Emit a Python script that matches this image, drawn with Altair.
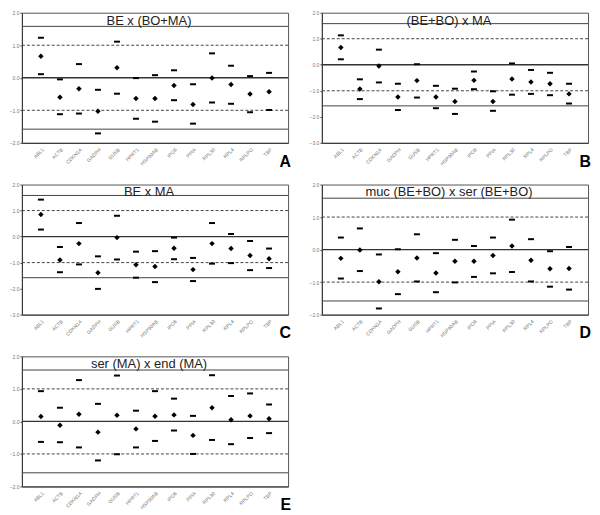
import altair as alt
import pandas as pd

genes = ["ABL1", "ACTB", "CDKN1A", "GADPH", "GUSB", "HPRT1", "HSP90AB",
         "IPO8", "PPIA", "RPL30", "RPL4", "RPLPO", "TBP"]

A_mean = [0.66, -0.60, -0.34, -1.03, 0.31, -0.64, -0.64, -0.24, -0.82, -0.01, -0.21, -0.50, -0.43]
A_upper = [1.23, -0.05, 0.42, -0.37, 1.11, -0.01, 0.08, 0.23, -0.20, 0.75, 0.37, 0.05, 0.15]
A_lower = [0.11, -1.12, -1.10, -1.71, -0.49, -1.26, -1.35, -0.69, -1.41, -0.76, -0.80, -1.06, -0.99]

B_mean = [0.66, -0.93, -0.05, -1.24, -0.61, -1.24, -1.41, -0.60, -1.41, -0.55, -0.66, -0.73, -1.12]
B_upper = [1.13, -0.56, 0.58, -0.73, 0.02, -0.81, -0.92, -0.26, -1.02, 0.05, -0.20, -0.31, -0.73]
B_lower = [0.21, -1.32, -0.68, -1.74, -1.26, -1.67, -1.89, -0.94, -1.77, -1.15, -1.12, -1.17, -1.49]

C_mean = [0.85, -0.90, -0.27, -1.39, -0.04, -1.08, -1.15, -0.45, -1.27, -0.27, -0.46, -0.73, -0.85]
C_upper = [1.42, -0.40, 0.52, -0.76, 0.80, -0.58, -0.56, -0.04, -0.82, 0.52, 0.10, -0.17, -0.46]
C_lower = [0.27, -1.37, -1.07, -2.01, -0.88, -1.58, -1.75, -0.87, -1.71, -1.04, -1.02, -1.29, -1.21]

D_mean = [-0.27, -0.01, -0.99, -0.68, -0.26, -0.72, -0.36, -0.36, -0.18, 0.11, -0.33, -0.59, -0.58]
D_upper = [0.37, 0.65, -0.15, 0.01, 0.47, -0.11, 0.30, 0.11, 0.37, 0.92, 0.32, -0.05, 0.08]
D_lower = [-0.89, -0.66, -1.81, -1.37, -0.98, -1.31, -1.01, -0.84, -0.73, -0.69, -0.98, -1.14, -1.23]

E_mean = [0.15, -0.12, 0.22, -0.33, 0.19, -0.23, 0.16, 0.20, -0.43, 0.42, 0.05, 0.17, 0.08]
E_upper = [0.93, 0.42, 1.27, 0.54, 1.41, 0.33, 0.93, 0.70, 0.17, 1.42, 0.78, 0.86, 0.52]
E_lower = [-0.63, -0.64, -0.80, -1.20, -1.01, -0.80, -0.60, -0.28, -1.00, -0.57, -0.70, -0.51, -0.36]

titles = ["BE x (BO+MA)", "(BE+BO) x MA", "BE x MA",
          "muc (BE+BO) x ser (BE+BO)", "ser (MA) x end (MA)"]
letters = ["A", "B", "C", "D", "E"]
y_mins = [-2, -3, -3, -2, -2]
y_max = 2
limit_lines = [1.58, -1.58]
dash_lines = [1, -1]
zero_line = [0]

W = 268
H = 131
FONT = "Liberation Sans"


def yenc(field, ymin):
    return alt.Y(field, type="quantitative",
                 scale=alt.Scale(domain=[ymin, y_max], nice=False, zero=False),
                 axis=alt.Axis(title=None, format=".1f",
                               values=list(range(ymin, y_max + 1)),
                               labelFontSize=5, labelColor="#777",
                               labelPadding=1, tickSize=2, tickColor="#555",
                               domainColor="#333", grid=False))


def panel(title, letter, mean, upper, lower, ymin):
    xenc = alt.X("gene:N", sort=genes,
                 scale=alt.Scale(type="point", padding=1.5),
                 axis=alt.Axis(title=None, labelAngle=-45, labelFontSize=5,
                               labelColor="#777", ticks=False, labelPadding=4,
                               domainColor="#333"))
    pts = pd.DataFrame({"gene": genes, "v": mean})
    bnds = pd.DataFrame({"gene": genes * 2, "v": upper + lower})

    solid = alt.Chart(pd.DataFrame({"v": limit_lines})).mark_rule(
        color="#444", strokeWidth=1).encode(y=yenc("v", ymin))
    dashed = alt.Chart(pd.DataFrame({"v": dash_lines})).mark_rule(
        color="#444", strokeWidth=1, strokeDash=[3, 2]).encode(y=yenc("v", ymin))
    zero = alt.Chart(pd.DataFrame({"v": zero_line})).mark_rule(
        color="#333", strokeWidth=1.3).encode(y=yenc("v", ymin))
    ticks = alt.Chart(bnds).mark_tick(color="black", size=6, thickness=2,
                                      opacity=1).encode(
        x=xenc, y=yenc("v", ymin))
    dots = alt.Chart(pts).mark_point(shape="diamond", filled=True, size=30,
                                     color="black", opacity=1).encode(
        x=xenc, y=yenc("v", ymin))
    ttl = alt.Chart(pd.DataFrame({"t": [title]})).mark_text(
        font=FONT, fontSize=13, color="#222", baseline="top").encode(
        text="t:N", x=alt.value(W / 2 - 6), y=alt.value(2))
    let = alt.Chart(pd.DataFrame({"t": [letter]})).mark_text(
        font=FONT, fontSize=16, fontWeight="bold", color="black",
        align="right", baseline="alphabetic").encode(
        text="t:N", x=alt.value(W + 3), y=alt.value(H + 24))
    return alt.layer(solid, dashed, zero, ticks, dots, ttl, let).properties(
        width=W, height=H)


data = [(A_mean, A_upper, A_lower), (B_mean, B_upper, B_lower),
        (C_mean, C_upper, C_lower), (D_mean, D_upper, D_lower),
        (E_mean, E_upper, E_lower)]
panels = [panel(titles[i], letters[i], *data[i], y_mins[i]) for i in range(5)]

chart = alt.vconcat(
    alt.hconcat(panels[0], panels[1], spacing=16),
    alt.hconcat(panels[2], panels[3], spacing=16),
    panels[4],
    spacing=11,
).configure(padding=0).configure_view(stroke="#555", strokeWidth=1)

chart.save("out.html", embed_options={"renderer": "svg", "actions": False})
